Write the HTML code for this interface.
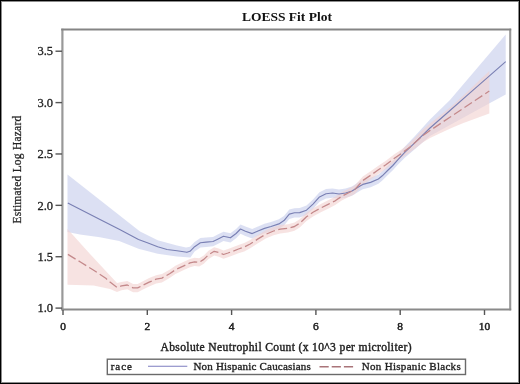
<!DOCTYPE html>
<html><head><meta charset="utf-8"><style>
html,body{margin:0;padding:0;background:#fff;}
#c{position:relative;width:520px;height:384px;overflow:hidden;background:#fff;font-family:"Liberation Serif",serif;}
#c svg{position:absolute;left:0;top:0;filter:blur(0.55px);}
#b{position:absolute;left:0;top:0;width:520px;height:384px;box-sizing:border-box;border:1px solid #000;box-shadow:inset 0 0 0 1px rgba(0,0,0,0.45);}
</style></head><body><div id="c">
<svg width="520" height="384" viewBox="0 0 520 384">
<polygon points="67.5,174.5 140.0,231.5 157.7,240.2 176.9,245.4 186.0,247.5 190.0,246.7 194.6,242.1 200.4,238.1 206.1,237.5 213.0,236.9 217.7,234.6 223.5,231.7 230.4,233.2 236.1,228.9 240.5,224.4 245.4,226.6 252.2,229.0 258.0,226.4 264.5,223.8 271.0,221.9 278.9,219.3 284.0,216.0 289.3,209.5 294.5,208.2 299.7,208.0 306.5,205.6 313.0,199.5 319.5,192.3 326.0,189.1 332.6,188.4 339.0,189.4 345.6,188.4 352.0,186.4 360.0,181.3 362.8,179.8 370.6,177.8 378.4,174.4 382.3,171.2 387.6,165.9 392.8,160.9 398.0,154.8 404.5,147.0 415.0,135.9 430.0,119.6 450.0,100.0 470.0,76.5 490.0,53.1 505.7,34.6 505.7,94.6 490.0,102.9 470.0,113.9 450.0,125.0 430.0,136.0 415.0,149.0 404.5,157.9 398.0,164.5 392.8,170.3 387.6,175.3 382.3,180.6 378.4,183.8 370.6,187.2 362.8,189.2 360.0,190.7 352.0,195.8 345.6,197.8 339.0,198.8 332.6,197.8 326.0,198.5 319.5,201.7 313.0,208.9 306.5,215.0 299.7,217.4 294.5,217.6 289.3,218.9 284.0,225.4 278.9,228.7 271.0,231.3 264.5,233.2 258.0,235.8 252.2,238.4 245.4,236.0 240.5,233.8 236.1,238.3 230.4,242.6 223.5,241.1 217.7,244.0 213.0,246.3 206.1,246.9 200.4,247.5 194.6,251.5 190.4,257.5 176.9,256.5 157.7,253.7 138.5,248.8 119.2,241.0 100.0,237.3 80.0,234.5 67.5,232.0" fill="rgb(185,193,231)" fill-opacity="0.5"/>
<polygon points="67.5,229.0 90.0,254.0 117.0,283.0 121.5,281.9 127.3,281.0 133.1,283.9 137.7,283.9 143.4,281.0 149.2,278.1 156.1,275.2 161.9,274.1 170.0,269.5 175.4,265.8 183.8,261.8 190.0,258.9 194.6,257.8 199.2,258.3 203.8,255.4 208.5,250.8 214.2,247.3 218.8,248.5 223.5,250.5 228.0,249.0 232.7,247.3 238.5,245.0 244.2,243.1 250.2,240.0 258.0,234.9 265.8,230.3 273.6,227.0 280.2,225.1 288.0,224.2 294.5,222.5 299.7,219.2 306.5,212.8 313.0,208.2 320.8,204.0 328.6,200.1 335.2,196.8 341.7,192.3 348.2,189.0 354.7,185.6 362.8,176.5 370.6,171.3 378.4,165.8 386.2,160.5 394.0,154.5 401.9,149.2 409.7,143.2 415.0,137.8 423.0,129.6 430.0,123.6 450.3,107.2 462.8,96.0 475.0,84.5 489.3,71.0 489.3,113.5 475.0,118.7 462.8,123.2 450.3,128.5 430.0,137.9 423.0,142.2 415.0,148.5 409.7,152.6 401.9,157.7 394.0,162.8 386.2,168.8 378.4,174.1 370.6,179.6 362.8,184.8 354.7,193.9 348.2,197.3 341.7,200.6 335.2,205.1 328.6,208.4 320.8,212.3 313.0,216.5 306.5,221.1 299.7,227.5 294.5,230.8 288.0,232.5 280.2,233.4 273.6,235.3 265.8,238.6 258.0,243.2 250.2,248.3 244.2,251.4 238.5,253.3 232.7,255.6 228.0,257.3 223.5,258.8 218.8,256.8 214.2,255.6 208.5,259.1 203.8,263.7 199.2,266.6 194.6,266.1 190.0,267.2 183.8,270.1 175.4,274.1 170.0,277.8 161.9,282.4 156.1,283.5 149.2,286.4 143.4,289.3 137.7,292.2 133.1,292.2 127.3,289.3 121.5,290.2 117.0,292.0 110.0,289.0 93.6,285.5 67.5,284.8" fill="rgb(241,208,207)" fill-opacity="0.6"/>
<polyline points="67.8,203.0 80.0,209.3 100.0,219.6 119.2,229.3 138.5,239.5 148.0,243.0 157.7,246.8 167.0,249.5 177.0,250.8 186.9,252.3 190.0,251.3 194.6,246.7 200.4,242.7 206.1,242.1 213.0,241.5 217.7,239.2 223.5,236.3 230.4,237.8 236.1,233.5 240.5,229.0 245.4,231.2 252.2,233.6 258.0,231.0 264.5,228.4 271.0,226.5 278.9,223.9 284.0,220.6 289.3,214.1 294.5,212.8 299.7,212.6 306.5,210.2 313.0,204.1 319.5,196.9 326.0,193.7 332.6,193.0 339.0,194.0 345.6,193.0 352.0,191.0 360.0,185.9 362.8,184.4 370.6,182.4 378.4,179.0 382.3,175.8 387.6,170.5 392.8,165.5 398.0,159.7 404.5,152.6 415.0,142.6 430.0,128.0 450.0,110.5 470.0,92.9 490.0,75.4 505.7,61.6" fill="none" stroke="#7a80b4" stroke-width="1.15" stroke-linejoin="round"/>
<polyline points="67.9,254.4 80.8,262.3 93.3,270.0 105.8,278.3 110.0,282.1 116.9,287.3 121.5,285.9 127.3,285.0 133.1,287.9 137.7,287.9 143.4,285.0 149.2,282.1 156.1,279.2 161.9,278.1 170.0,273.5 175.4,269.8 183.8,265.8 190.0,262.9 194.6,261.8 199.2,262.3 203.8,259.4 208.5,254.8 214.2,251.3 218.8,252.5 223.5,254.5 228.0,253.0 232.7,251.3 238.5,249.0 244.2,247.1 250.2,244.0 258.0,238.9 265.8,234.3 273.6,231.0 280.2,229.1 288.0,228.2 294.5,226.5 299.7,223.2 306.5,216.8 313.0,212.2 320.8,208.0 328.6,204.1 335.2,200.8 341.7,196.3 348.2,193.0 354.7,189.6 362.8,180.5 370.6,175.3 378.4,169.8 386.2,164.5 394.0,158.5 401.9,153.2 409.7,147.2 415.0,142.5 423.0,135.5 430.0,130.5 450.3,117.0 462.8,108.7 475.0,100.5 489.3,91.0" fill="none" stroke="#c4898b" stroke-width="1.3" stroke-dasharray="9 3.5" stroke-linejoin="round"/>
<line x1="62.4" y1="28.7" x2="62.4" y2="310.3" stroke="#999" stroke-width="2.2"/>
<line x1="510.2" y1="28.7" x2="510.2" y2="310.3" stroke="#999" stroke-width="2.1"/>
<line x1="61.2" y1="29.5" x2="511.2" y2="29.5" stroke="#858585" stroke-width="1.8"/>
<line x1="61.2" y1="309.5" x2="511.2" y2="309.5" stroke="#8a8a8a" stroke-width="1.9"/>
<line x1="55.5" y1="308.10" x2="62" y2="308.10" stroke="#555" stroke-width="1.4"/>
<text x="53.0" y="312.30" text-anchor="end" font-family="Liberation Serif, serif" font-size="12.5" fill="#222" stroke="#222" stroke-width="0.3">1.0</text>
<line x1="55.5" y1="256.73" x2="62" y2="256.73" stroke="#555" stroke-width="1.4"/>
<text x="53.0" y="260.93" text-anchor="end" font-family="Liberation Serif, serif" font-size="12.5" fill="#222" stroke="#222" stroke-width="0.3">1.5</text>
<line x1="55.5" y1="205.35" x2="62" y2="205.35" stroke="#555" stroke-width="1.4"/>
<text x="53.0" y="209.55" text-anchor="end" font-family="Liberation Serif, serif" font-size="12.5" fill="#222" stroke="#222" stroke-width="0.3">2.0</text>
<line x1="55.5" y1="153.97" x2="62" y2="153.97" stroke="#555" stroke-width="1.4"/>
<text x="53.0" y="158.17" text-anchor="end" font-family="Liberation Serif, serif" font-size="12.5" fill="#222" stroke="#222" stroke-width="0.3">2.5</text>
<line x1="55.5" y1="102.60" x2="62" y2="102.60" stroke="#555" stroke-width="1.4"/>
<text x="53.0" y="106.80" text-anchor="end" font-family="Liberation Serif, serif" font-size="12.5" fill="#222" stroke="#222" stroke-width="0.3">3.0</text>
<line x1="55.5" y1="51.22" x2="62" y2="51.22" stroke="#555" stroke-width="1.4"/>
<text x="53.0" y="55.42" text-anchor="end" font-family="Liberation Serif, serif" font-size="12.5" fill="#222" stroke="#222" stroke-width="0.3">3.5</text>
<line x1="63.00" y1="310" x2="63.00" y2="315" stroke="#555" stroke-width="1.4"/>
<text x="63.00" y="329.9" text-anchor="middle" font-family="Liberation Serif, serif" font-size="11.4" fill="#222" stroke="#222" stroke-width="0.5">0</text>
<line x1="147.30" y1="310" x2="147.30" y2="315" stroke="#555" stroke-width="1.4"/>
<text x="147.30" y="329.9" text-anchor="middle" font-family="Liberation Serif, serif" font-size="11.4" fill="#222" stroke="#222" stroke-width="0.5">2</text>
<line x1="231.60" y1="310" x2="231.60" y2="315" stroke="#555" stroke-width="1.4"/>
<text x="231.60" y="329.9" text-anchor="middle" font-family="Liberation Serif, serif" font-size="11.4" fill="#222" stroke="#222" stroke-width="0.5">4</text>
<line x1="315.90" y1="310" x2="315.90" y2="315" stroke="#555" stroke-width="1.4"/>
<text x="315.90" y="329.9" text-anchor="middle" font-family="Liberation Serif, serif" font-size="11.4" fill="#222" stroke="#222" stroke-width="0.5">6</text>
<line x1="400.20" y1="310" x2="400.20" y2="315" stroke="#555" stroke-width="1.4"/>
<text x="400.20" y="329.9" text-anchor="middle" font-family="Liberation Serif, serif" font-size="11.4" fill="#222" stroke="#222" stroke-width="0.5">8</text>
<line x1="484.50" y1="310" x2="484.50" y2="315" stroke="#555" stroke-width="1.4"/>
<text x="484.50" y="329.9" text-anchor="middle" font-family="Liberation Serif, serif" font-size="11.4" fill="#222" stroke="#222" stroke-width="0.5">10</text>
<text x="286.9" y="20.8" text-anchor="middle" font-family="Liberation Serif, serif" font-size="13.5" font-weight="bold" fill="#111">LOESS Fit Plot</text>
<text x="286.2" y="351.0" text-anchor="middle" letter-spacing="0.34" font-family="Liberation Serif, serif" font-size="11.6" fill="#222" stroke="#222" stroke-width="0.4">Absolute Neutrophil Count (x 10^3 per microliter)</text>
<text transform="translate(21.2,169.5) rotate(-90)" x="0" y="0" text-anchor="middle" letter-spacing="0.22" font-family="Liberation Serif, serif" font-size="11.5" fill="#222" stroke="#222" stroke-width="0.25">Estimated Log Hazard</text>
<rect x="107.3" y="359.2" width="358.2" height="15.3" fill="none" stroke="#6a6a6a" stroke-width="1.4"/>
<text x="110.8" y="370.2" letter-spacing="0.9" font-family="Liberation Serif, serif" font-size="11" fill="#222" stroke="#222" stroke-width="0.35">race</text>
<line x1="148" y1="366.2" x2="187.3" y2="366.2" stroke="#7c7cbf" stroke-width="1.05"/>
<text x="193.4" y="370.2" letter-spacing="0.2" font-family="Liberation Serif, serif" font-size="11" fill="#222" stroke="#222" stroke-width="0.35">Non Hispanic Caucasians</text>
<line x1="319.5" y1="366.7" x2="353.4" y2="366.7" stroke="#a97479" stroke-width="1.4" stroke-dasharray="9.2 3"/>
<text x="361.8" y="370.2" letter-spacing="0.3" font-family="Liberation Serif, serif" font-size="11" fill="#222" stroke="#222" stroke-width="0.35">Non Hispanic Blacks</text>
</svg>
<div id="b"></div>
</div></body></html>
